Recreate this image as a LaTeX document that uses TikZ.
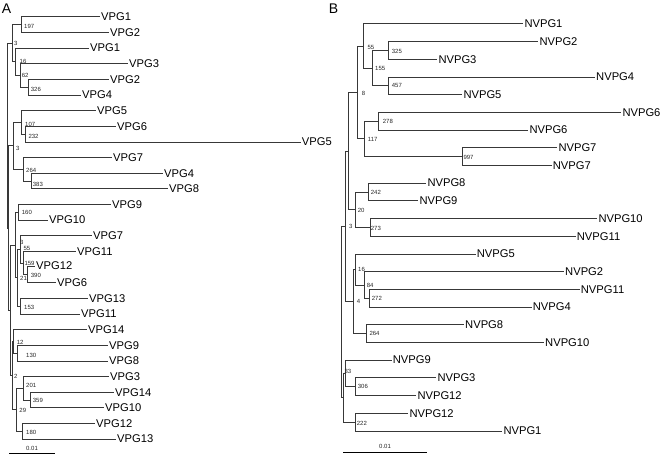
\documentclass[tikz,border=0pt]{standalone}
\usepackage{fontspec}
\setmainfont{Liberation Sans}
\newcommand{\leaffont}{\fontsize{11.2}{13}\selectfont}
\newcommand{\bsfont}{\fontsize{6}{7}\selectfont}
\newcommand{\panelfont}{\fontsize{14}{16}\selectfont}
\tikzset{
  edge/.style={draw=black!78, line width=0.7pt},
  leaf/.style={anchor=west, inner sep=1pt, font=\leaffont},
  bs/.style={anchor=west, inner sep=0pt, font=\bsfont, text=black!85},
  panel/.style={inner sep=0pt, font=\panelfont},
  sbar/.style={draw=black, line width=0.7pt}
}
\begin{document}
\begin{tikzpicture}[x=1pt,y=-1pt]
\useasboundingbox (0,0) rectangle (661,454);
% ---------------- Panel A ----------------
\node[panel] (pA) at (6.5,8.5) {A};
\node[leaf] (la1) at (100,16.8) {VPG1};
\node[leaf] (la2) at (109,32.4) {VPG2};
\node[leaf] (la3) at (89,48.1) {VPG1};
\node[leaf] (la4) at (128,63.7) {VPG3};
\node[leaf] (la5) at (109,79.4) {VPG2};
\node[leaf] (la6) at (81,95.0) {VPG4};
\node[leaf] (la7) at (96,110.6) {VPG5};
\node[leaf] (la8) at (116,126.3) {VPG6};
\node[leaf] (la9) at (300.7,141.9) {VPG5};
\node[leaf] (la10) at (112,157.6) {VPG7};
\node[leaf] (la11) at (163,173.2) {VPG4};
\node[leaf] (la12) at (168,188.8) {VPG8};
\node[leaf] (la13) at (111,204.5) {VPG9};
\node[leaf] (la14) at (48,220.1) {VPG10};
\node[leaf] (la15) at (92,235.8) {VPG7};
\node[leaf] (la16) at (76,251.4) {VPG11};
\node[leaf] (la17) at (35,266.0) {VPG12};
\node[leaf] (la18) at (56,282.7) {VPG6};
\node[leaf] (la19) at (88,298.3) {VPG13};
\node[leaf] (la20) at (80,314.0) {VPG11};
\node[leaf] (la21) at (87,329.6) {VPG14};
\node[leaf] (la22) at (108,345.2) {VPG9};
\node[leaf] (la23) at (108,360.9) {VPG8};
\node[leaf] (la24) at (109,376.5) {VPG3};
\node[leaf] (la25) at (114,392.2) {VPG14};
\node[leaf] (la26) at (104,407.8) {VPG10};
\node[leaf] (la27) at (95,423.4) {VPG12};
\node[leaf] (la28) at (116,439.1) {VPG13};
% internal nodes A
\coordinate (ia197) at (21,24.6);
\coordinate (ia326) at (28,87.2);
\coordinate (ia62) at (20.5,75.45);
\coordinate (ia16) at (15.5,61.8);
\coordinate (ia3a) at (12,43.2);
\coordinate (ia232) at (25,134.1);
\coordinate (ia107) at (21.7,122.35);
\coordinate (ia383) at (31,181);
\coordinate (ia264) at (23,169.3);
\coordinate (ia3b) at (13.5,145.8);
\coordinate (ia160) at (18,212.3);
\coordinate (ia390) at (27,274.35);
\coordinate (ia159) at (23,262.9);
\coordinate (ia55) at (20,249.35);
\coordinate (ia153) at (20,306.15);
\coordinate (ia21) at (17,277.75);
\coordinate (ia3c) at (15,245.0);
\coordinate (ia130) at (17,353.05);
\coordinate (ia12) at (13,341.3);
\coordinate (ia359) at (30,400);
\coordinate (ia201) at (23,388.25);
\coordinate (ia180) at (22,431.25);
\coordinate (ia29) at (16,409.75);
\coordinate (ia2) at (12,375.5);
\coordinate (iaV) at (10,310.3);
\coordinate (iaU) at (8.5,228.05);
\coordinate (iaR) at (7,135.6);
\foreach \p/\c in {
  ia197/la1.west, ia197/la2.west,
  ia326/la5.west, ia326/la6.west,
  ia62/la4.west, ia62/ia326,
  ia16/la3.west, ia16/ia62,
  ia3a/ia197, ia3a/ia16,
  ia232/la8.west, ia232/la9.west,
  ia107/la7.west, ia107/ia232,
  ia383/la11.west, ia383/la12.west,
  ia264/la10.west, ia264/ia383,
  ia3b/ia107, ia3b/ia264,
  ia160/la13.west, ia160/la14.west,
  ia390/la17.west, ia390/la18.west,
  ia159/la16.west, ia159/ia390,
  ia55/la15.west, ia55/ia159,
  ia153/la19.west, ia153/la20.west,
  ia21/ia55, ia21/ia153,
  ia3c/ia160, ia3c/ia21,
  ia130/la22.west, ia130/la23.west,
  ia12/la21.west, ia12/ia130,
  ia359/la25.west, ia359/la26.west,
  ia201/la24.west, ia201/ia359,
  ia180/la27.west, ia180/la28.west,
  ia29/ia201, ia29/ia180,
  ia2/ia12, ia2/ia29,
  iaV/ia3c, iaV/ia2,
  iaU/ia3b, iaU/iaV,
  iaR/ia3a, iaR/iaU}
  \draw[edge] (\p) |- (\c);
% bootstrap values A
\node[bs] (ba197) at (24,26.7) {197};
\node[bs] (ba3a) at (14,43.3) {3};
\node[bs] (ba16) at (19.5,61.7) {16};
\node[bs] (ba62) at (21.7,75.8) {62};
\node[bs] (ba326) at (30.7,89) {326};
\node[bs] (ba107) at (25,124) {107};
\node[bs] (ba232) at (28.3,136.7) {232};
\node[bs] (ba3b) at (16,148.3) {3};
\node[bs] (ba264) at (26,170.7) {264};
\node[bs] (ba383) at (32.7,184) {383};
\node[bs] (ba160) at (21.7,212.3) {160};
\node[bs] (ba3c) at (20,242.7) {3};
\node[bs] (ba55) at (23.3,248.3) {55};
\node[bs] (ba159) at (24.3,263.7) {159};
\node[bs] (ba390) at (30.7,275) {390};
\node[bs] (ba21) at (20,278.7) {21};
\node[bs] (ba153) at (24,307.7) {153};
\node[bs] (ba12) at (16.7,342.3) {12};
\node[bs] (ba130) at (26,355) {130};
\node[bs] (ba2) at (14,376.7) {2};
\node[bs] (ba201) at (26,385) {201};
\node[bs] (ba359) at (32.7,400.7) {359};
\node[bs] (ba29) at (19.3,410) {29};
\node[bs] (ba180) at (26,432.3) {180};
% scale bar A
\coordinate (sa1) at (9,453);
\coordinate (sa2) at (55,453);
\draw[sbar] (sa1) -- (sa2);
\node[bs, anchor=center] (sla) at (32,448.5) {0.01};
% ---------------- Panel B ----------------
\node[panel] (pB) at (333.5,8.7) {B};
\node[leaf] (lb1) at (523.3,23.8) {NVPG1};
\node[leaf] (lb2) at (538.3,41.5) {NVPG2};
\node[leaf] (lb3) at (437.3,59.2) {NVPG3};
\node[leaf] (lb4) at (595,76.9) {NVPG4};
\node[leaf] (lb5) at (462.3,94.6) {NVPG5};
\node[leaf] (lb6) at (621.3,112.3) {NVPG6};
\node[leaf] (lb7) at (528.3,130.0) {NVPG6};
\node[leaf] (lb8) at (557.3,147.7) {NVPG7};
\node[leaf] (lb9) at (551.7,165.4) {NVPG7};
\node[leaf] (lb10) at (426.3,183.1) {NVPG8};
\node[leaf] (lb11) at (418.3,200.8) {NVPG9};
\node[leaf] (lb12) at (597.3,218.5) {NVPG10};
\node[leaf] (lb13) at (575.7,236.2) {NVPG11};
\node[leaf] (lb14) at (475.7,253.9) {NVPG5};
\node[leaf] (lb15) at (564,271.6) {NVPG2};
\node[leaf] (lb16) at (579.7,289.3) {NVPG11};
\node[leaf] (lb17) at (531.7,307.0) {NVPG4};
\node[leaf] (lb18) at (464,324.7) {NVPG8};
\node[leaf] (lb19) at (544,342.4) {NVPG10};
\node[leaf] (lb20) at (391.7,360.1) {NVPG9};
\node[leaf] (lb21) at (436.3,377.8) {NVPG3};
\node[leaf] (lb22) at (416.3,395.5) {NVPG12};
\node[leaf] (lb23) at (408.3,413.2) {NVPG12};
\node[leaf] (lb24) at (502.3,430.9) {NVPG1};
% internal nodes B
\coordinate (ib325) at (388,50.35);
\coordinate (ib457) at (388,85.75);
\coordinate (ib155) at (372,68.05);
\coordinate (ib55) at (363,45.9);
\coordinate (ib278) at (378,121.15);
\coordinate (ib997) at (462,156.55);
\coordinate (ib117) at (364,138.85);
\coordinate (ib8) at (357,92.4);
\coordinate (ib242) at (368,191.95);
\coordinate (ib273) at (370,227.35);
\coordinate (ib20) at (355,209.65);
\coordinate (ib272) at (369,298.15);
\coordinate (ib84) at (364,284.9);
\coordinate (ib16) at (355,269.4);
\coordinate (ib264) at (366,333.55);
\coordinate (ib4) at (353,301.5);
\coordinate (ib306) at (355,386.65);
\coordinate (ib33) at (345,373.4);
\coordinate (ib222) at (355,422.05);
\coordinate (ibP) at (348,151);
\coordinate (ib3) at (345,226.25);
\coordinate (ibS) at (343,397.7);
\coordinate (ibR) at (341,312);
\foreach \p/\c in {
  ib325/lb2.west, ib325/lb3.west,
  ib457/lb4.west, ib457/lb5.west,
  ib155/ib325, ib155/ib457,
  ib55/lb1.west, ib55/ib155,
  ib278/lb6.west, ib278/lb7.west,
  ib997/lb8.west, ib997/lb9.west,
  ib117/ib278, ib117/ib997,
  ib8/ib55, ib8/ib117,
  ib242/lb10.west, ib242/lb11.west,
  ib273/lb12.west, ib273/lb13.west,
  ib20/ib242, ib20/ib273,
  ib272/lb16.west, ib272/lb17.west,
  ib84/lb15.west, ib84/ib272,
  ib16/lb14.west, ib16/ib84,
  ib264/lb18.west, ib264/lb19.west,
  ib4/ib16, ib4/ib264,
  ib306/lb21.west, ib306/lb22.west,
  ib33/lb20.west, ib33/ib306,
  ib222/lb23.west, ib222/lb24.west,
  ibP/ib8, ibP/ib20,
  ib3/ibP, ib3/ib4,
  ibS/ib33, ibS/ib222,
  ibR/ib3, ibR/ibS}
  \draw[edge] (\p) |- (\c);
% bootstrap values B
\node[bs] (bb55) at (367.3,47) {55};
\node[bs] (bb325) at (391.7,51.7) {325};
\node[bs] (bb155) at (375,68.7) {155};
\node[bs] (bb457) at (391.7,85) {457};
\node[bs] (bb8) at (361.7,93.3) {8};
\node[bs] (bb278) at (382.7,121.7) {278};
\node[bs] (bb117) at (367.7,139) {117};
\node[bs] (bb997) at (463.3,157.3) {997};
\node[bs] (bb242) at (370.7,192.7) {242};
\node[bs] (bb20) at (357.7,210) {20};
\node[bs] (bb3) at (349,226) {3};
\node[bs] (bb273) at (370.7,228.3) {273};
\node[bs] (bb16) at (358,269) {16};
\node[bs] (bb84) at (366.7,285) {84};
\node[bs] (bb4) at (356.7,301.7) {4};
\node[bs] (bb272) at (371.7,298.3) {272};
\node[bs] (bb264) at (369.3,333.3) {264};
\node[bs] (bb33) at (344.3,371.7) {33};
\node[bs] (bb306) at (357.7,386) {306};
\node[bs] (bb222) at (356.7,423.3) {222};
% scale bar B
\coordinate (sb1) at (343,452);
\coordinate (sb2) at (427,452);
\draw[sbar] (sb1) -- (sb2);
\node[bs, anchor=center] (slb) at (385,446.5) {0.01};
\end{tikzpicture}
\end{document}
